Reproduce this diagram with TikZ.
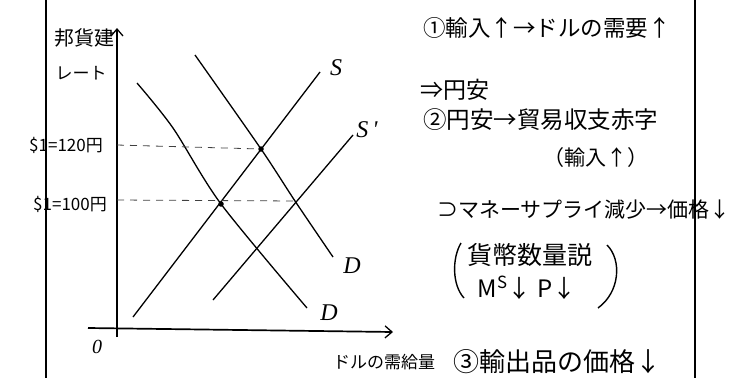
\documentclass[tikz,border=0pt]{standalone}
\usepackage{fontspec}
\setmainfont{Noto Sans CJK JP}
\newfontfamily\latin{Liberation Serif}
\usetikzlibrary{arrows.meta}
\newcommand\fs[1]{\fontsize{#1}{#1}\selectfont}
\begin{document}
\begin{tikzpicture}[x=1pt,y=-1pt,
  curve/.style={line width=1.3pt},
  axisline/.style={line width=1.7pt,-{Straight Barb[length=7pt,width=12pt,line width=1.3pt]}},
  frameline/.style={line width=1.8pt},
  guide/.style={dash pattern=on 7pt off 6pt, line width=0.8pt, draw=black!75},
  txt/.style={inner sep=0pt, anchor=west},
  lbl/.style={inner sep=0pt},
  curvelbl/.style={inner sep=0pt, font=\latin\itshape\fs{24}},
  dot/.style={circle, fill, inner sep=0pt, minimum size=5.5pt}]
\useasboundingbox (0,0) rectangle (738,378);
% frame lines
\draw[frameline] (46,0) -- (46,378);
\draw[frameline] (695,0) -- (695,378);
% axes
\coordinate (ybot) at (117,337);
\coordinate (ytop) at (117,28);
\coordinate (xl) at (88,328);
\coordinate (xr) at (393,332);
\draw[axisline] (ybot) -- (ytop);
\draw[axisline] (xl) -- (xr);
\node[lbl] (zero) at (97,347) {\latin\itshape\fs{20}0};
\node[lbl] (ylab1) at (84,38) {\fs{20}邦貨建};
\node[lbl] (ylab2) at (81,73) {\fs{17}レート};
\node[txt] (xlab) at (333,362) {\fs{17}ドルの需給量};
% curves
\draw[curve] plot[smooth] coordinates {(137,83) (173,128) (221,204) (307,308)};
\draw[curve] plot[smooth] coordinates {(195,55) (261,149) (295,201) (333,257)};
\draw[curve] (133,317) -- (320,72);
\draw[curve] (213,300) -- (353,135);
\node[curvelbl] (Slab) at (336,68) {S};
\node[curvelbl] (Splab) at (367,130) {S\,'};
\node[curvelbl] (D2lab) at (352,266) {D};
\node[curvelbl] (D1lab) at (329,313) {D};
% equilibria
\node[dot] (e1) at (261,149) {};
\node[dot] (e0) at (221,204) {};
\coordinate (e2) at (296,201);
\coordinate (y120) at (117,145);
\coordinate (y100) at (117,200);
\draw[guide] (y120) -- (e1);
\draw[guide] (y100) -- (e2);
\node[lbl] (p120) at (66,145) {\fs{17}\$1=120円};
\node[lbl] (p100) at (70,204) {\fs{17}\$1=100円};
% right side notes
\node[txt] (n1) at (423,28) {\fs{22.5}①輸入↑→ドルの需要↑};
\node[txt] (n2) at (420,90) {\fs{23}⇒円安};
\node[txt] (n3) at (423,120) {\fs{23.5}②円安→貿易収支赤字};
\node[txt] (n4) at (543,158) {\fs{21}（輸入↑）};
\node[txt] (n5) at (437,210) {\fs{21}⊃マネーサプライ減少→価格↓};
\node[lbl] (n6) at (530,255) {\fs{25}貨幣数量説};
\node[lbl] (n7) at (527,288) {\fs{24}M\textsuperscript{S}↓\ P↓};
\draw[line width=1.4pt] (461,243) .. controls (452,258) and (452,285) .. (464,298);
\draw[line width=1.4pt] (607,245) .. controls (622,260) and (620,292) .. (598,308);
\node[txt] (n8) at (453,362) {\fs{26}③輸出品の価格↓};
\end{tikzpicture}
\end{document}
